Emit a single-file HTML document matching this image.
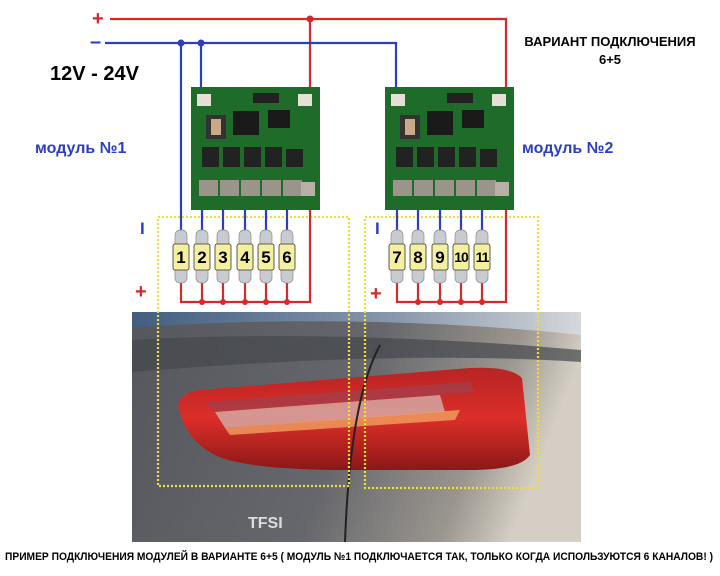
<!DOCTYPE html>
<html><head><meta charset="utf-8"><style>html,body{margin:0;padding:0;background:#fff}svg{display:block}</style></head><body>
<svg width="720" height="576" viewBox="0 0 720 576" xmlns="http://www.w3.org/2000/svg" font-family="Liberation Sans, sans-serif">
<defs>
<linearGradient id="car" x1="0" y1="0" x2="1" y2="0.2">
<stop offset="0" stop-color="#55575d"/><stop offset="0.55" stop-color="#66676c"/><stop offset="0.85" stop-color="#9a958e"/><stop offset="1" stop-color="#d4cec4"/></linearGradient>
<linearGradient id="sky" x1="0" y1="0" x2="1" y2="0"><stop offset="0" stop-color="#3f5f86"/><stop offset="0.6" stop-color="#8fa2b8"/><stop offset="1" stop-color="#d8dde2"/></linearGradient>
<linearGradient id="lamp" x1="0" y1="0" x2="0" y2="1"><stop offset="0" stop-color="#b82424"/><stop offset="0.5" stop-color="#dc2e28"/><stop offset="1" stop-color="#8a1818"/></linearGradient>
<g id="bulb"><rect x="-6" y="0" width="12" height="53" rx="5" fill="#c8ccd0" stroke="#888" stroke-width="0.7"/><rect x="-8" y="14" width="16" height="26" rx="2" fill="#f4f0a0" stroke="#333" stroke-width="0.8"/></g>
<g id="mod">
<rect x="0" y="0" width="129" height="123" fill="#1f6b2a"/>
<rect x="6" y="7" width="14" height="12" fill="#e6e0d4"/><rect x="107" y="7" width="14" height="12" fill="#e6e0d4"/>
<rect x="15" y="28" width="20" height="24" fill="#333"/><rect x="20" y="32" width="10" height="16" fill="#c8aa88"/>
<rect x="42" y="24" width="26" height="24" fill="#1a1a1a"/><rect x="77" y="23" width="22" height="18" fill="#1a1a1a"/>
<rect x="62" y="6" width="26" height="10" fill="#222"/>
<g fill="#222"><rect x="11" y="60" width="17" height="20"/><rect x="32" y="60" width="17" height="20"/><rect x="53" y="60" width="17" height="20"/><rect x="74" y="60" width="17" height="20"/><rect x="95" y="62" width="17" height="18"/></g>
<g fill="#9b948a"><rect x="8" y="93" width="19" height="16"/><rect x="29" y="93" width="19" height="16"/><rect x="50" y="93" width="19" height="16"/><rect x="71" y="93" width="19" height="16"/><rect x="92" y="93" width="19" height="16"/><rect x="110" y="95" width="14" height="14" fill="#b8b0a4"/></g>
</g>
</defs>
<!-- photo -->
<rect x="132" y="312" width="449" height="230" fill="url(#car)"/>
<path d="M132 312 H581 V335 Q420 318 250 322 Q180 324 132 328Z" fill="url(#sky)" opacity="0.85"/>
<path d="M132 340 Q300 330 520 345 L581 350 V362 Q400 350 132 372Z" fill="#45474d" opacity="0.7"/>
<path d="M178 405 Q182 392 200 390 L470 368 Q510 366 522 378 L530 455 Q520 470 470 470 L330 470 Q240 468 215 455 Q185 440 178 405Z" fill="url(#lamp)"/>
<path d="M205 402 L470 382 L475 392 L215 412Z" fill="#a04050" opacity="0.7"/>
<path d="M215 412 L440 395 L445 412 L225 428Z" fill="#d4b8b4" opacity="0.75"/>
<path d="M225 428 L460 410 L455 420 L230 435Z" fill="#f0a060" opacity="0.8"/>
<path d="M380 345 Q350 400 345 542" stroke="#222" stroke-width="2" fill="none"/>
<text x="248" y="528" font-size="16" fill="#ddd" font-weight="bold">TFSI</text>
<!-- yellow boxes -->
<g fill="none" stroke="#f0dc3c" stroke-width="2.2" stroke-dasharray="2,2">
<rect x="158" y="217" width="191" height="269"/><rect x="365" y="217" width="173" height="271"/></g>
<!-- wires -->
<g fill="none" stroke-width="2.2">
<path d="M110 19 H506 V90 M310 19 V90" stroke="#d42a2a"/>
<path d="M105 43 H396 V90 M181 43 V232 M201 43 V90" stroke="#2a3fbf"/>
<path d="M310 208 V302 H181 V283 M202 302 V283 M223 302 V283 M245 302 V283 M266 302 V283 M287 302 V283" stroke="#d42a2a"/>
<path d="M506 208 V302 H397 V283 M418 302 V283 M440 302 V283 M461 302 V283 M482 302 V283" stroke="#d42a2a"/>
<path d="M202 208 V232 M223 208 V232 M245 208 V232 M266 208 V232 M287 208 V232 M397 208 V232 M418 208 V232 M440 208 V232 M461 208 V232 M482 208 V232" stroke="#2a3fbf"/>
</g>
<g fill="#d42a2a"><circle cx="310" cy="19" r="3.5"/><circle cx="202" cy="302" r="3"/><circle cx="223" cy="302" r="3"/><circle cx="245" cy="302" r="3"/><circle cx="266" cy="302" r="3"/><circle cx="287" cy="302" r="3"/><circle cx="418" cy="302" r="3"/><circle cx="440" cy="302" r="3"/><circle cx="461" cy="302" r="3"/><circle cx="482" cy="302" r="3"/></g>
<g fill="#2a3fbf"><circle cx="181" cy="43" r="3.5"/><circle cx="201" cy="43" r="3.5"/></g>
<use href="#mod" x="191" y="87"/><use href="#mod" x="385" y="87"/>
<g><use href="#bulb" x="181" y="230"/><use href="#bulb" x="202" y="230"/><use href="#bulb" x="223" y="230"/><use href="#bulb" x="245" y="230"/><use href="#bulb" x="266" y="230"/><use href="#bulb" x="287" y="230"/><use href="#bulb" x="397" y="230"/><use href="#bulb" x="418" y="230"/><use href="#bulb" x="440" y="230"/><use href="#bulb" x="461" y="230"/><use href="#bulb" x="482" y="230"/></g>
<g font-size="17" font-weight="bold" text-anchor="middle" fill="#000"><text x="181" y="263">1</text><text x="202" y="263">2</text><text x="223" y="263">3</text><text x="245" y="263">4</text><text x="266" y="263">5</text><text x="287" y="263">6</text><text x="397" y="263">7</text><text x="418" y="263">8</text><text x="440" y="263">9</text><text x="461" y="262" font-size="14" letter-spacing="-1">10</text><text x="482" y="262" font-size="14" letter-spacing="-1">11</text></g>
<g font-weight="bold">
<text x="92" y="25" font-size="20" fill="#d42a2a">+</text>
<text x="90" y="48" font-size="20" fill="#2a3fbf">–</text>
<text x="50" y="80" font-size="20" fill="#000">12V - 24V</text>
<text x="35" y="153" font-size="16" fill="#2a3fbf">модуль №1</text>
<text x="522" y="153" font-size="16" fill="#2a3fbf">модуль №2</text>
<text x="140" y="234" font-size="17" fill="#2a3fbf">I</text>
<text x="375" y="234" font-size="17" fill="#2a3fbf">I</text>
<text x="135" y="298" font-size="20" fill="#d42a2a">+</text>
<text x="370" y="300" font-size="20" fill="#d42a2a">+</text>
<text x="610" y="46" font-size="13" text-anchor="middle" fill="#000">ВАРИАНТ ПОДКЛЮЧЕНИЯ</text>
<text x="610" y="64" font-size="13" text-anchor="middle" fill="#000">6+5</text>
<text x="5" y="560" font-size="11" textLength="708" lengthAdjust="spacingAndGlyphs" fill="#000">ПРИМЕР ПОДКЛЮЧЕНИЯ МОДУЛЕЙ В ВАРИАНТЕ 6+5 ( МОДУЛЬ №1 ПОДКЛЮЧАЕТСЯ ТАК, ТОЛЬКО КОГДА ИСПОЛЬЗУЮТСЯ 6 КАНАЛОВ! )</text>
</g>
</svg>
</body></html>
